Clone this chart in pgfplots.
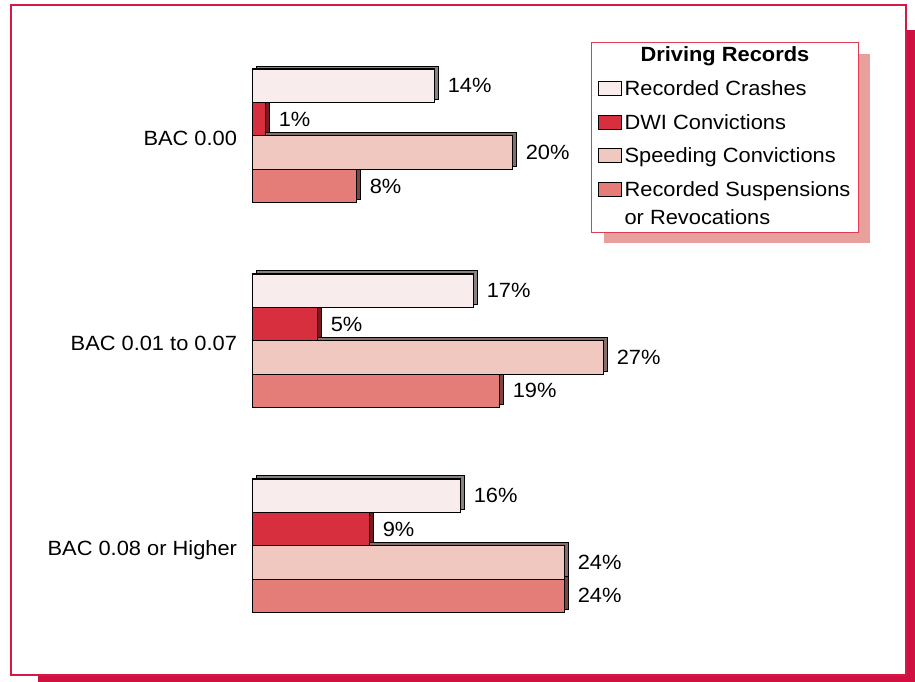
\documentclass[border=0pt]{standalone}
\usepackage{fontspec}
\setmainfont{Liberation Sans}[FakeStretch=1.06]
\usepackage{pgfplots}
\pgfplotsset{compat=1.18}
\definecolor{frame}{RGB}{214,24,68}
\definecolor{frameshadow}{RGB}{208,16,64}
\definecolor{legborder}{RGB}{222,60,80}
\definecolor{legshadow}{RGB}{232,160,156}
\definecolor{cA}{RGB}{248,236,236}
\definecolor{cB}{RGB}{216,47,62}
\definecolor{cC}{RGB}{240,200,192}
\definecolor{cD}{RGB}{228,124,120}
\newcommand{\rowA}{\rule[-6.6pt]{0pt}{22.8pt}}
\newcommand{\rowE}{\rule[-9pt]{0pt}{37.2pt}}
\newcommand{\rowZ}{\rule{0pt}{26.2pt}}
\begin{document}
\begin{tikzpicture}[x=1pt,y=1pt]
\useasboundingbox (0,0) rectangle (915,-682);
\fill[frameshadow] (38,-30) rectangle (915,-682);
\filldraw[fill=white,draw=frame,line width=1.5pt] (10.8,-4.8) rectangle (906,-675);
% legend drop shadow
\fill[legshadow] (604,-54) rectangle (870,-243);
\begin{axis}[
  at={(252.7pt,-648.2pt)}, anchor=south west,
  scale only axis, width=390pt, height=614.85pt,
  xmin=0, xmax=30, ymin=-0.5, ymax=2.5,
  xbar, bar width=33.4pt,
  clip=false,
  axis line style={draw=none},
  xtick=\empty,
  ytick={0,1,2},
  yticklabels={BAC 0.08 or Higher, BAC 0.01 to 0.07, BAC 0.00},
  major tick length=0pt,
  yticklabel style={inner sep=0pt, anchor=base east, xshift=-15.5pt, yshift=-9.7pt},
  tick label style={font=\fontsize{20.6}{27}\selectfont},
  /pgf/number format/assume math mode=true,
  legend style={at={(0.86744,0.98593)}, anchor=north west, draw=legborder, line width=1pt, fill=white,
    inner xsep=6pt, inner ysep=1pt, row sep=0pt, column sep=1pt,
    cells={anchor=base west, inner sep=0pt}, font=\fontsize{20.6}{27}\selectfont},
  legend image code/.code={\draw[#1,draw=black,line width=1.1pt] (0pt,0pt) rectangle (23pt,14pt);},
  shadowbar/.style={forget plot, xshift=3.5pt, yshift=3pt, draw=black, line width=1pt},
  facebar/.style={draw=black, line width=1.2pt,
    nodes near coords={\pgfmathprintnumber{\pgfplotspointmeta}\%}, point meta=x,
    every node near coord/.append style={anchor=west, inner sep=0pt, xshift=12.5pt,
      font=\fontsize{20.6}{27}\selectfont, text=black}},
]
% 3D side faces (shifted copies)
\addplot[shadowbar, fill=cA!55!black, bar shift=50.1pt] coordinates {(14,2) (17,1) (16,0)};
\addplot[shadowbar, fill=cB!55!black, bar shift=16.7pt] coordinates {(1,2) (5,1) (9,0)};
\addplot[shadowbar, fill=cC!55!black, bar shift=-16.7pt] coordinates {(20,2) (27,1) (24,0)};
\addplot[shadowbar, fill=cD!55!black, bar shift=-50.1pt] coordinates {(8,2) (19,1) (24,0)};
\addlegendimage{empty legend}
\addlegendentry{\hspace*{16pt}\textbf{Driving Records}\rowA}
% front faces
\addplot[facebar, fill=cA, bar shift=50.1pt] coordinates {(14,2) (17,1) (16,0)};
\addlegendentry{Recorded Crashes\rowE}
\addplot[facebar, fill=cB, bar shift=16.7pt] coordinates {(1,2) (5,1) (9,0)};
\addlegendentry{DWI Convictions\rowE}
\addplot[facebar, fill=cC, bar shift=-16.7pt] coordinates {(20,2) (27,1) (24,0)};
\addlegendentry{Speeding Convictions\rowE}
\addplot[facebar, fill=cD, bar shift=-50.1pt] coordinates {(8,2) (19,1) (24,0)};
\addlegendentry{Recorded Suspensions\rowE}
\addlegendimage{empty legend}
\addlegendentry{\raisebox{4pt}{or Revocations}\rowZ}
\end{axis}
\end{tikzpicture}
\end{document}
